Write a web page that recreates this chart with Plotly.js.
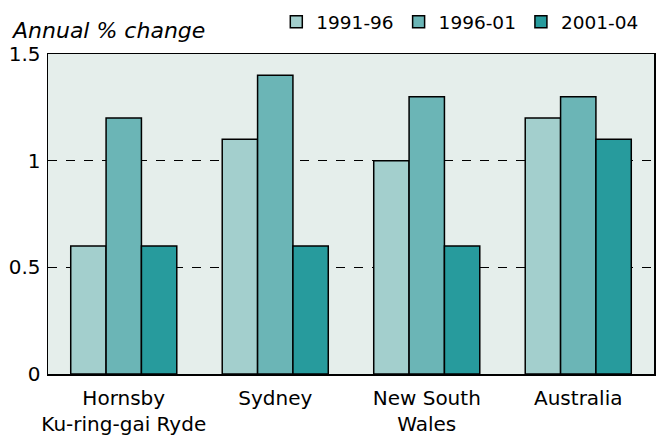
<!DOCTYPE html>
<html><head><meta charset="utf-8">
<script src="https://cdn.plot.ly/plotly-3.0.1.min.js"></script>
<style>body{margin:0;background:#fff}#c{width:661px;height:442px}</style>
</head><body><div id="c"></div>
<script>
const categories = ["Hornsby<br>Ku-ring-gai Ryde", "Sydney", "New South<br>Wales", "Australia"];
const seriesNames = ["1991-96", "1996-01", "2001-04"];
const v1991_96 = [0.6, 1.1, 1.0, 1.2];
const v1996_01 = [1.2, 1.4, 1.3, 1.3];
const v2001_04 = [0.6, 0.6, 0.6, 1.1];
const yTicks = [0, 0.5, 1, 1.5];
const yTickLabels = ["0", "0.5", "1", "1.5"];
const colors = ["#a3cfcd", "#6bb5b6", "#279b9d"];
const values = [v1991_96, v1996_01, v2001_04];
const font = "'DejaVu Sans', sans-serif";
const data = values.map((v, i) => ({
  type: "bar", x: categories, y: v, name: seriesNames[i],
  marker: {color: colors[i], line: {color: "#000", width: 1.5}},
  hoverinfo: "none"
}));
const layout = {
  width: 661, height: 442,
  margin: {l: 48, r: 7, t: 54, b: 68},
  paper_bgcolor: "#fff", plot_bgcolor: "#e5eeeb",
  barmode: "group", bargap: 0.3, bargroupgap: 0,
  font: {family: font, size: 20, color: "#000"},
  showlegend: true,
  legend: {orientation: "h", xref: "container", yref: "container", x: 0.418, xanchor: "left",
    y: 0.95, yanchor: "middle",
    font: {size: 18.5}, itemwidth: 30, tracegroupgap: 0, bgcolor: "rgba(0,0,0,0)"},
  xaxis: {showline: true, linecolor: "#000", linewidth: 1.5, mirror: true, automargin: false,
    ticks: "", tickfont: {size: 20}, ticklabelstandoff: 5},
  yaxis: {range: [0, 1.5], tickvals: yTicks, ticktext: yTickLabels, automargin: false,
    showline: true, linecolor: "#000", linewidth: 1.5, mirror: true,
    showgrid: true, gridcolor: "#000", griddash: "dash", gridwidth: 1,
    zeroline: false, ticks: "", ticklen: 0, tickfont: {size: 20}, ticklabelstandoff: 2},
  annotations: [{text: "<i>Annual % change</i>", xref: "paper", yref: "paper",
    x: -0.065, y: 1.075, xanchor: "left", yanchor: "middle", showarrow: false,
    font: {size: 22}}]
};
Plotly.newPlot("c", data, layout, {displayModeBar: false, staticPlot: true});
</script></body></html>
